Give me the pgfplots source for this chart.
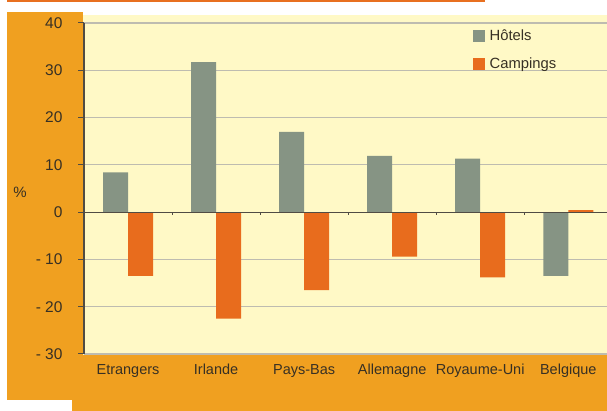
\documentclass[border=0pt]{standalone}
\usepackage{pgfplots}
\pgfplotsset{compat=1.18}
\usepackage{fontspec}
\setmainfont{Liberation Sans}
\definecolor{bgorange}{RGB}{240,160,32}
\definecolor{topline}{RGB}{232,112,32}
\definecolor{bgyellow}{RGB}{255,249,198}
\definecolor{hotelgrey}{RGB}{134,148,132}
\definecolor{camporange}{RGB}{232,108,29}
\definecolor{gridgray}{RGB}{190,188,176}
\definecolor{axisdark}{RGB}{80,76,68}
\definecolor{textcol}{RGB}{55,48,36}

\begin{document}
\begin{tikzpicture}[x=1pt,y=1pt]
\path[use as bounding box] (0,0) rectangle (607,411);
% backgrounds
\fill[topline] (7,409.3) rectangle (485,411);
\fill[bgorange] (7,11) rectangle (83,399);
\fill[bgorange] (7,11) rectangle (607,56);
\fill[bgorange] (72,0) rectangle (607,56);
\fill[bgyellow] (83,56) rectangle (607,396);
\node[text=textcol, font=\fontsize{15}{17}\selectfont] at (20,219) {\%};

\begin{axis}[
    at={(84pt,57pt)}, anchor=south west,
    scale only axis,
    width=523pt, height=331pt,
    xmin=-0.5, xmax=5.44,
    ymin=-30, ymax=40,
    ybar=0pt, bar width=25pt,
    xtick={0,1,2,3,4,5},
    xticklabels={Etrangers,Irlande,Pays-Bas,Allemagne,Royaume-Uni,Belgique},
    ytick={-30,-20,-10,0,10,20,30,40},
    yticklabels={- 30,- 20,- 10,0,10,20,30,40},
    x tick style={draw=none},
    y tick style={axisdark, line width=1pt},
    tick align=outside, major tick length=6pt,
    ymajorgrids, grid style={gridgray, line width=1.2pt},
    axis x line*=bottom, axis y line*=left,
    x axis line style={gridgray, line width=1.2pt},
    y axis line style={axisdark, line width=1.2pt},
    xticklabel style={font=\fontsize{14.5}{17}\selectfont, text=textcol,
        text height=10.5pt, text depth=3pt},
    yticklabel style={font=\fontsize{15.5}{18}\selectfont, text=textcol, xshift=-12pt},
    legend style={at={(0.737,0.992)}, anchor=north west, draw=none, fill=none,
        font=\fontsize{14.8}{17}\selectfont, text=textcol, row sep=12pt,
        /tikz/every odd column/.append style={column sep=3pt}},
    legend cell align=left,
    legend image code/.code={\fill[#1] (0pt,-6pt) rectangle (12pt,6pt);},
]
\addplot[fill=hotelgrey, draw=none] coordinates {
    (0,8.4) (1,31.7) (2,17.0) (3,11.9) (4,11.3) (5,-13.5)
};
\addplot[fill=camporange, draw=none] coordinates {
    (0,-13.5) (1,-22.5) (2,-16.5) (3,-9.4) (4,-13.8) (5,0.4)
};
\legend{Hôtels,Campings}
\draw[axisdark, line width=1pt] (axis cs:-0.5,0) -- (axis cs:5.44,0);
\pgfplotsinvokeforeach{0.5,1.5,2.5,3.5,4.5}{
    \draw[axisdark, line width=0.8pt] (axis cs:#1,0) -- ++(0pt,-3pt);
}
\end{axis}
\end{tikzpicture}
\end{document}
